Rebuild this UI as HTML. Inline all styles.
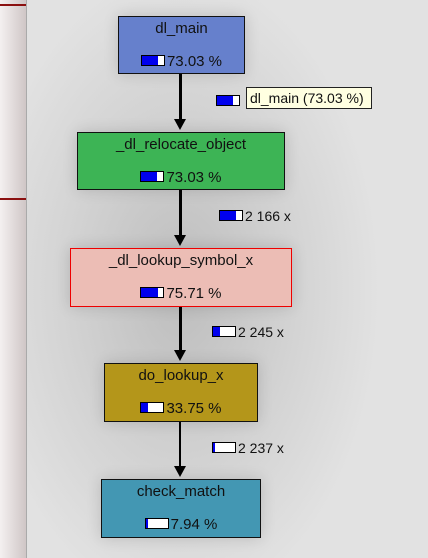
<!DOCTYPE html><html><head><style>
body{margin:0;width:428px;height:558px;overflow:hidden;background:radial-gradient(ellipse 200px 320px at 180px 290px,#bdbdbd,#d4d4d4 60%,#e2e2e2);font-family:"Liberation Sans","DejaVu Sans",sans-serif;position:relative}
.p{position:absolute;left:0;top:0;width:26px;height:558px;background:linear-gradient(90deg,#f4f0f0,#cfc6c6);border-right:1px solid #aaa}
.rl{position:absolute;left:0;width:26px;height:2px;background:#8b1010}
.n{position:absolute;box-sizing:border-box;border:1px solid #111;text-align:center;font-size:15px;color:#111;box-shadow:0 0 14px rgba(0,0,0,.15)}
.n .t{position:absolute;top:3px;left:0;right:0}
.n .b{position:absolute;top:36px;left:0;right:0;font-size:15px}
.bar{display:inline-block;width:22px;height:9px;border:1px solid #000;background:#fff;vertical-align:0px;margin-right:2px;position:relative}
.bar i{position:absolute;left:0;top:0;bottom:0;background:#0000ee}
.l{position:absolute;font-size:14px;color:#111}
.v{position:absolute;left:179px;width:3px;background:#000}
.a{position:absolute;left:174px;width:0;height:0;border-left:6px solid transparent;border-right:6px solid transparent;border-top:11px solid #000}
</style></head><body>
<div class="p"></div><div class="rl" style="top:4px"></div><div class="rl" style="top:198px"></div>
<div class="v" style="top:74px;height:48px"></div><div class="a" style="top:119px"></div>
<div class="v" style="top:190px;height:48px"></div><div class="a" style="top:235px"></div>
<div class="v" style="top:306px;height:47px"></div><div class="a" style="top:350px"></div>
<div class="v" style="top:421px;height:48px;width:2px"></div><div class="a" style="top:466px"></div>
<div class="n" style="left:118px;top:16px;width:127px;height:58px;background:#6680cc"><div class="t">dl_main</div><div class="b"><span class="bar"><i style="width:16px"></i></span>73.03 %</div></div>
<div class="n" style="left:77px;top:132px;width:208px;height:58px;background:#3db455"><div class="t">_dl_relocate_object</div><div class="b"><span class="bar"><i style="width:16px"></i></span>73.03 %</div></div>
<div class="n" style="left:70px;top:248px;width:222px;height:59px;background:#ecbdb5;border-color:#e00"><div class="t">_dl_lookup_symbol_x</div><div class="b"><span class="bar"><i style="width:17px"></i></span>75.71 %</div></div>
<div class="n" style="left:104px;top:363px;width:154px;height:59px;background:#b4961a"><div class="t">do_lookup_x</div><div class="b"><span class="bar"><i style="width:7px"></i></span>33.75 %</div></div>
<div class="n" style="left:101px;top:479px;width:160px;height:59px;background:#4397b3"><div class="t">check_match</div><div class="b"><span class="bar"><i style="width:2px"></i></span>7.94 %</div></div>
<div class="l" style="left:216px;top:93px"><span class="bar"><i style="width:16px"></i></span></div>
<div class="l" style="left:246px;top:87px;background:#ffffe1;border:1px solid #222;font-size:14px;line-height:20px;padding-left:3px;box-sizing:border-box;height:22px;width:126px">dl_main (73.03 %)</div>
<div class="l" style="left:219px;top:208px"><span class="bar"><i style="width:16px"></i></span>2 166 x</div>
<div class="l" style="left:212px;top:324px"><span class="bar"><i style="width:7px"></i></span>2 245 x</div>
<div class="l" style="left:212px;top:440px"><span class="bar"><i style="width:2px"></i></span>2 237 x</div>
</body></html>
